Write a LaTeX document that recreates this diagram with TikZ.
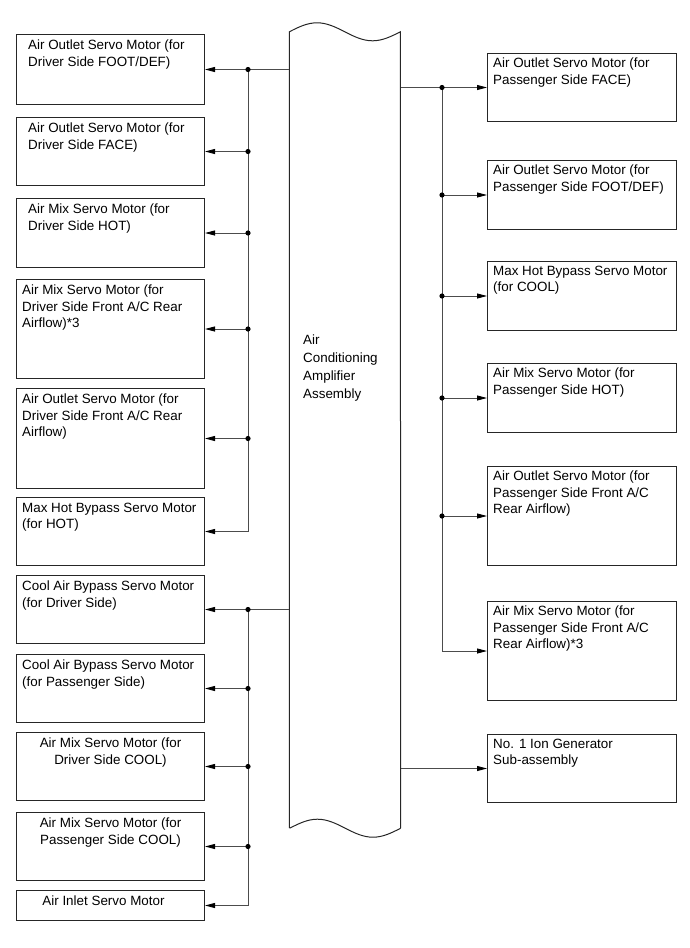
\documentclass[tikz,border=0pt]{standalone}
\usepackage{fontspec}
\setmainfont{Liberation Sans}
\usetikzlibrary{positioning}
\usetikzlibrary{arrows.meta}
\colorlet{frame colour}{black!85}
\colorlet{wire colour}{black!70}
\newcommand\boxfont{\fontsize{13.4pt}{16.3pt}\selectfont}
\tikzset{
    % Slim filled heads as in the service manual
    >={Triangle[length=10pt,width=5pt,color=black]},
%
    % Lines
    wire/.style={color=wire colour, line width=0.9pt},
    outline/.style={color=frame colour, line width=1pt},
    % Junction dots
    joint/.style={fill=black},
%
    % We almost always want left aligned node text here
    every node/.style={align=left},
}

\begin{document}
\begin{tikzpicture}[
    x=1pt, y=-1pt,
    box/.style={draw=frame colour, line width=1pt, anchor=north west,
        minimum width=188pt, inner sep=0pt},
    short/.style={box, minimum height=68pt},
    tall/.style={box, minimum height=99pt},
    tl/.style={anchor=north west, inner sep=0pt, font=\boxfont,
        xshift=#1, yshift=-6pt},
    tl/.default=6pt,
    tc/.style={anchor=north, inner sep=0pt, font=\boxfont, align=center,
        yshift=-6pt},
]
\useasboundingbox (0,0) rectangle (689,948);

% amplifier body
\node [minimum width=111pt, minimum height=796pt, inner sep=0pt] (amp) at (345,430) {};
\draw [outline, line join=miter] (amp.south west) -- (amp.north west)
    sin ++(27.75,-9) cos ++(27.75,9) sin ++(27.75,9) cos ++(27.75,-9)
    -- (amp.south east);
\draw [outline] (amp.south east)
    sin ++(-27.75,9) cos ++(-27.75,-9) sin ++(-27.75,-9) cos ++(-27.75,9);
\node [anchor=north west, inner sep=0pt, font=\fontsize{13.4pt}{18pt}\selectfont]
    (amp text) at (303,335) {Air\\Conditioning\\Amplifier\\Assembly};

% driver side
\path
    (16,34) node [short, minimum height=70pt,
        label={[tl=12pt]north west:{Air Outlet Servo Motor (for\\Driver Side FOOT/DEF)}}] (foot def) {}
    (16,117) node [short,
        label={[tl=12pt]north west:{Air Outlet Servo Motor (for\\Driver Side FACE)}}] (face) {}
    (16,198) node [short, minimum height=69pt,
        label={[tl=12pt]north west:{Air Mix Servo Motor (for\\Driver Side HOT)}}] (mix hot) {}
    (16,279) node [tall,
        label={[tl]north west:{Air Mix Servo Motor (for\\Driver Side Front A/C Rear\\Airflow)*3}}] (mix rear) {}
    (16,388) node [tall, minimum height=100pt,
        label={[tl]north west:{Air Outlet Servo Motor (for\\Driver Side Front A/C Rear\\Airflow)}}] (outlet rear) {}
    (16,497) node [short,
        label={[tl]north west:{Max Hot Bypass Servo Motor\\(for HOT)}}] (bypass hot) {}
    (16,575) node [short,
        label={[tl]north west:{Cool Air Bypass Servo Motor\\(for Driver Side)}}] (cool drv) {}
    (16,654) node [short,
        label={[tl]north west:{Cool Air Bypass Servo Motor\\(for Passenger Side)}}] (cool pass) {}
    (16,732) node [short,
        label={[tc]north:{Air Mix Servo Motor (for\\Driver Side COOL)}}] (mix cool drv) {}
    (16,812) node [short,
        label={[tc]north:{Air Mix Servo Motor (for\\Passenger Side COOL)}}] (mix cool pass) {}
    (16,890) node [box, minimum height=30pt,
        label={[tc, xshift=-7pt]north:{Air Inlet Servo Motor}}] (inlet) {};

% passenger side
\path
    (487,53) node [short, minimum width=189pt,
        label={[tl, yshift=1pt]north west:{Air Outlet Servo Motor (for\\Passenger Side FACE)}}] (p face) {}
    (487,160) node [short, minimum width=189pt, minimum height=69pt,
        label={[tl, yshift=1pt]north west:{Air Outlet Servo Motor (for\\Passenger Side FOOT/DEF)}}] (p foot def) {}
    (487,261) node [short, minimum width=189pt, minimum height=69pt,
        label={[tl, yshift=1pt]north west:{Max Hot Bypass Servo Motor\\(for COOL)}}] (bypass cool) {}
    (487,363) node [short, minimum width=189pt, minimum height=69pt,
        label={[tl, yshift=1pt]north west:{Air Mix Servo Motor (for\\Passenger Side HOT)}}] (p mix hot) {}
    (487,466) node [tall, minimum width=189pt,
        label={[tl, yshift=1pt]north west:{Air Outlet Servo Motor (for\\Passenger Side Front A/C\\Rear Airflow)}}] (p outlet rear) {}
    (487,601) node [tall, minimum width=189pt,
        label={[tl, yshift=1pt]north west:{Air Mix Servo Motor (for\\Passenger Side Front A/C\\Rear Airflow)*3}}] (p mix rear) {}
    (487,734) node [short, minimum width=189pt,
        label={[tl, yshift=1pt]north west:{No. 1 Ion Generator\\Sub-assembly}}] (ion) {};

\coordinate (left bus) at (248,0);
\coordinate (right bus) at (442,0);

% upper driver group
\draw [wire, ->] (amp.west |- foot def.east) -- (foot def.east);
\draw [wire, ->] (left bus |- foot def.east) -- (left bus |- bypass hot.east) -- (bypass hot.east);
\foreach \m in {face, mix hot, mix rear, outlet rear}
    \draw [wire, ->] (left bus |- \m.east) -- (\m.east);
\foreach \m in {foot def, face, mix hot, mix rear, outlet rear}
    \fill [joint] (left bus |- \m.east) circle (2.6pt);

% lower driver group
\draw [wire, ->] (amp.west |- cool drv.east) -- (cool drv.east);
\draw [wire, ->] (left bus |- cool drv.east) -- (left bus |- inlet.east) -- (inlet.east);
\foreach \m in {cool pass, mix cool drv, mix cool pass}
    \draw [wire, ->] (left bus |- \m.east) -- (\m.east);
\foreach \m in {cool drv, cool pass, mix cool drv, mix cool pass}
    \fill [joint] (left bus |- \m.east) circle (2.6pt);

% passenger group
\draw [wire, ->] (amp.east |- p face.west) -- (p face.west);
\draw [wire, ->] (right bus |- p face.west) -- (right bus |- p mix rear.west) -- (p mix rear.west);
\foreach \m in {p foot def, bypass cool, p mix hot, p outlet rear}
    \draw [wire, ->] (right bus |- \m.west) -- (\m.west);
\foreach \m in {p face, p foot def, bypass cool, p mix hot, p outlet rear}
    \fill [joint] (right bus |- \m.west) circle (2.6pt);

\draw [wire, ->] (amp.east |- ion.west) -- (ion.west);

\end{tikzpicture}
\end{document}
